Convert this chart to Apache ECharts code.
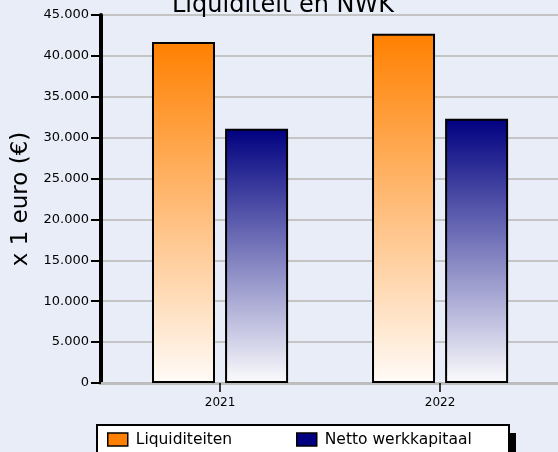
<!DOCTYPE html>
<html>
<head>
<meta charset="utf-8">
<script src="https://cdn.jsdelivr.net/npm/echarts@6/dist/echarts.min.js"></script>
<style>
  html, body { margin: 0; padding: 0; background: #e9edf7; }
  #chart { width: 558px; height: 452px; }
</style>
</head>
<body>
<div id="chart"></div>
<script>
  // data
  var years = [2021, 2022]
  var liquiditeiten = [41700, 42700]
  var nettoWerkkapitaal = [31100, 32300]
  var yTicks = [0, 5000, 10000, 15000, 20000, 25000, 30000, 35000, 40000, 45000]

  var font = 'DejaVu Sans'

  function fmt(v) {
    return String(v).replace(/\B(?=(\d{3})+(?!\d))/g, '.')
  }

  function grad(top, bottom) {
    return new echarts.graphic.LinearGradient(0, 0, 0, 1, [
      { offset: 0, color: top },
      { offset: 1, color: bottom }
    ])
  }

  function legendItem(name, color, left) {
    return {
      left: left,
      top: 431.5,
      padding: 0,
      z: 10,
      itemWidth: 20,
      itemHeight: 13,
      selectedMode: false,
      textStyle: { fontFamily: font, fontSize: 15.5, color: '#000', padding: [0, 0, 0, 3] },
      data: [{ name: name, icon: 'rect', itemStyle: { color: color, borderColor: '#000', borderWidth: 1.5 } }]
    }
  }

  var chart = echarts.init(document.getElementById('chart'))

  chart.setOption({
    backgroundColor: '#e9edf7',
    animation: false,
    title: {
      text: 'Liquiditeit en NWK',
      left: 172,
      top: -6,
      padding: 0,
      textStyle: { fontFamily: font, fontSize: 24, fontWeight: 'normal', color: '#000' }
    },
    // legend box with its hard black shadow
    graphic: [
      { type: 'rect', z: 1, shape: { x: 104, y: 433, width: 412, height: 40 }, style: { fill: '#000' } },
      { type: 'rect', z: 2, shape: { x: 97, y: 425, width: 412, height: 40 }, style: { fill: '#fff', stroke: '#000', lineWidth: 2 } }
    ],
    legend: [
      legendItem('Liquiditeiten', '#ff8000', 107),
      legendItem('Netto werkkapitaal', '#000080', 296)
    ],
    grid: {
      left: 101,
      right: 0,
      top: 15,
      bottom: 69
    },
    xAxis: {
      type: 'value',
      min: 2020.459,
      max: 2022.536,
      splitLine: { show: false },
      axisLine: { show: true, lineStyle: { color: '#bdbdbd', width: 3 } },
      axisTick: { show: true, customValues: years, length: 9, lineStyle: { color: '#000', width: 1.5 } },
      axisLabel: {
        customValues: years,
        formatter: function (v) { return String(v) },
        fontFamily: font, fontSize: 12, color: '#000', margin: 14
      }
    },
    yAxis: {
      type: 'value',
      min: 0,
      max: 45000,
      interval: 5000,
      name: 'x 1 euro (€)',
      nameLocation: 'middle',
      nameGap: 66,
      nameTextStyle: { fontFamily: font, fontSize: 23, color: '#000' },
      axisLine: { show: true, lineStyle: { color: '#000', width: 4 } },
      axisTick: { show: true, length: 10, lineStyle: { color: '#000', width: 2 } },
      axisLabel: {
        fontFamily: font, fontSize: 13, color: '#000', margin: 12,
        formatter: function (v) { return fmt(v) }
      },
      splitLine: { show: true, lineStyle: { color: '#c4c4c4', width: 2 } }
    },
    series: [
      {
        name: 'Liquiditeiten',
        type: 'bar',
        barWidth: 63,
        barGap: '16%',
        itemStyle: { color: grad('#ff8000', '#fffbf7'), borderColor: '#000', borderWidth: 2 },
        data: years.map(function (y, i) { return [y, liquiditeiten[i]] })
      },
      {
        name: 'Netto werkkapitaal',
        type: 'bar',
        barWidth: 63,
        barGap: '16%',
        itemStyle: { color: grad('#000080', '#fbfbfd'), borderColor: '#000', borderWidth: 2 },
        data: years.map(function (y, i) { return [y, nettoWerkkapitaal[i]] })
      }
    ]
  })
</script>
</body>
</html>
